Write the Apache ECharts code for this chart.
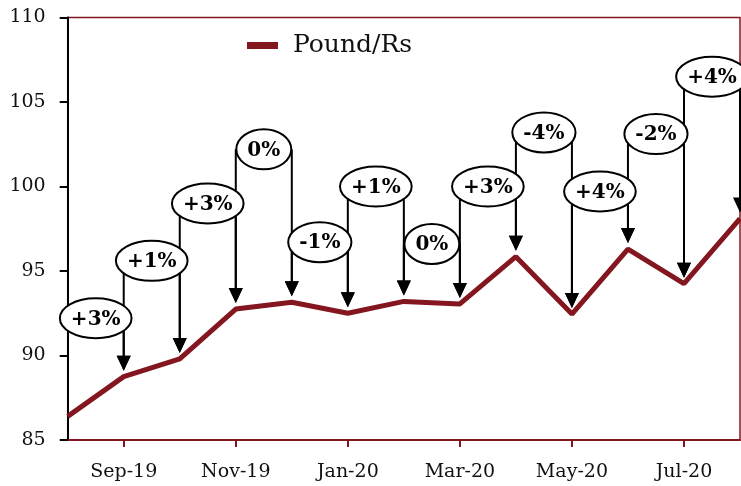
<!DOCTYPE html>
<html>
<head>
<meta charset="utf-8">
<script src="https://cdn.jsdelivr.net/npm/echarts@6/dist/echarts.min.js"></script>
<style>
  html, body { margin: 0; padding: 0; background: #fff; }
  #chart { width: 741px; height: 486px; }
</style>
</head>
<body>
<div id="chart"></div>
<script>
// Monthly Pound / Rupee rate
const months = ['Aug-19', 'Sep-19', 'Oct-19', 'Nov-19', 'Dec-19', 'Jan-20', 'Feb-20',
                'Mar-20', 'Apr-20', 'May-20', 'Jun-20', 'Jul-20', 'Aug-20'];
const poundRs = [86.4, 88.75, 89.8, 92.75, 93.15, 92.5, 93.2, 93.05, 95.85, 92.45, 96.3, 94.25, 98.1];

// Value axis range
const yMin = 85;
const yMax = 110;
const yStep = 5;

// Height (in axis units) at which each month-on-month callout bubble sits
const calloutLevels = [92.2, 95.6, 99.0, 102.2, 96.7, 100.0, 96.6, 100.0, 103.2, 99.7, 103.1, 106.5];

// Month-on-month change, rounded to whole percent
const changeLabels = poundRs.slice(1).map((v, i) => {
  const pct = Math.round((v / poundRs[i] - 1) * 100);
  return (pct > 0 ? '+' + pct : pct === 0 ? '0' : String(pct)) + '%';
});

const LINE_RED = '#84161f';
const SERIF = '"DejaVu Serif", "Liberation Serif", serif';
const BUBBLE_FONT = 'bold 20px ' + SERIF;

const measureCtx = document.createElement('canvas').getContext('2d');
function textWidth(text, font) {
  measureCtx.font = font;
  return measureCtx.measureText(text).width;
}

// Bubble with the change, plus arrows down to both months it compares
function renderCallout(params, api) {
  const i = api.value(0);
  const level = api.value(1);
  const a = api.coord([i, poundRs[i]]);
  const b = api.coord([i + 1, poundRs[i + 1]]);
  const cy = api.coord([i, level])[1];
  const cx = (a[0] + b[0]) / 2;
  const text = changeLabels[i];
  const rx = textWidth(text, BUBBLE_FONT) / 2 + 11;
  const ry = 20;
  const children = [];
  // the first month sits on the value axis, so it gets no arrow of its own
  const targets = i === 0 ? [b] : [a, b];
  targets.forEach(p => {
    const tipY = p[1] - 6;
    const baseY = tipY - 15;
    children.push({
      type: 'line',
      shape: { x1: p[0], y1: cy, x2: p[0], y2: baseY + 1 },
      style: { stroke: '#000', lineWidth: 2 },
      z2: 1
    });
    children.push({
      type: 'polygon',
      shape: { points: [[p[0] - 7, baseY], [p[0] + 7, baseY], [p[0], tipY]] },
      style: { fill: '#000' },
      z2: 1
    });
  });
  children.push({
    type: 'ellipse',
    shape: { cx: cx, cy: cy, rx: rx, ry: ry },
    style: { fill: '#fff', stroke: '#000', lineWidth: 2 },
    z2: 10
  });
  children.push({
    type: 'text',
    style: {
      text: text, x: cx, y: cy + 1,
      align: 'center', verticalAlign: 'middle',
      textAlign: 'center', textVerticalAlign: 'middle',
      font: BUBBLE_FONT, fill: '#000'
    },
    z2: 11
  });
  return { type: 'group', children: children };
}

const oddMonth = idx => idx % 2 === 1;

const chart = echarts.init(document.getElementById('chart'), null, { renderer: 'canvas' });
chart.setOption({
  animation: false,
  backgroundColor: '#fff',
  grid: {
    left: 67.7, right: 1, top: 17.5, bottom: 46,
    show: true, borderColor: LINE_RED, borderWidth: 1.5, backgroundColor: 'transparent'
  },
  legend: {
    data: ['Pound/Rs'],
    left: 242, top: 28,
    icon: 'rect', itemWidth: 31, itemHeight: 7,
    textStyle: { fontFamily: SERIF, fontSize: 25, color: '#111', padding: [0, 0, 0, 10] }
  },
  xAxis: {
    type: 'category',
    data: months,
    boundaryGap: false,
    axisLine: { lineStyle: { color: LINE_RED, width: 2 } },
    axisTick: { show: true, interval: oddMonth, length: 7, lineStyle: { color: LINE_RED, width: 2 } },
    axisLabel: { interval: oddMonth, fontFamily: SERIF, fontSize: 19, color: '#111', margin: 23 },
    splitLine: { show: false }
  },
  yAxis: {
    type: 'value',
    min: yMin, max: yMax, interval: yStep,
    axisLine: { show: true, lineStyle: { color: '#000', width: 2 } },
    axisTick: { show: true, length: 8, lineStyle: { color: '#000', width: 2 } },
    axisLabel: { fontFamily: SERIF, fontSize: 19, color: '#111', margin: 22 },
    splitLine: { show: false }
  },
  series: [
    {
      name: 'Pound/Rs',
      type: 'line',
      data: poundRs,
      symbol: 'none',
      lineStyle: { color: LINE_RED, width: 5 },
      itemStyle: { color: LINE_RED },
      z: 3
    },
    {
      name: 'change',
      type: 'custom',
      renderItem: renderCallout,
      data: changeLabels.map((_, i) => [i, calloutLevels[i]]),
      clip: false,
      silent: true,
      z: 4
    }
  ]
});
</script>
</body>
</html>
